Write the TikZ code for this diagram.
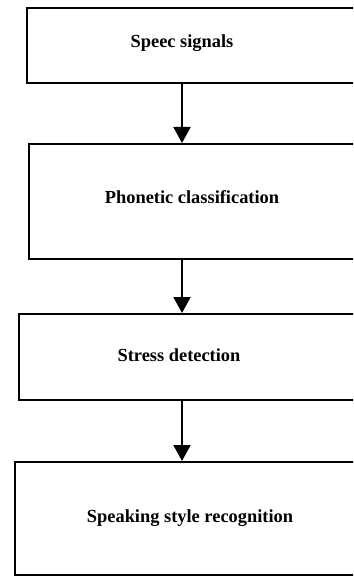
\documentclass[tikz,border=0pt]{standalone}
\usepackage{fontspec}
\setmainfont{Liberation Serif}
\usetikzlibrary{arrows.meta, positioning}

\begin{document}
\begin{tikzpicture}[x=1pt, y=-1pt, >={Triangle[width=17pt,length=16pt]},
  stage/.style={draw=black, line width=2pt, anchor=north west, inner sep=0pt,
                minimum width=400pt},
  lab/.style={font=\fontsize{18.4}{21}\selectfont\bfseries, anchor=base, inner sep=0pt},
  flow/.style={->, draw=black, line width=2pt}]
  \fill[white] (0,0) rectangle (353,577);
  \useasboundingbox (0,0) rectangle (353,577);
  \clip (0,0) rectangle (353,577);
  \node[stage, minimum height=75pt]  (sig) at (26,7)   {};
  \node[stage, minimum height=115pt] (pho) at (28,143) {};
  \node[stage, minimum height=86pt]  (str) at (18,313) {};
  \node[stage, minimum height=113pt] (rec) at (14,461) {};
  \coordinate (mid) at (182,0);
  \node[lab] (tsig) at (182,48)  {Speec signals};
  \node[lab] (tpho) at (192,204) {Phonetic classification};
  \node[lab] (tstr) at (179,361) {Stress detection};
  \node[lab] (trec) at (190,522) {Speaking style recognition};
  \draw[flow] (sig.south -| mid) -- (pho.north -| mid);
  \draw[flow] (pho.south -| mid) -- (str.north -| mid);
  \draw[flow] (str.south -| mid) -- (rec.north -| mid);
\end{tikzpicture}
\end{document}
